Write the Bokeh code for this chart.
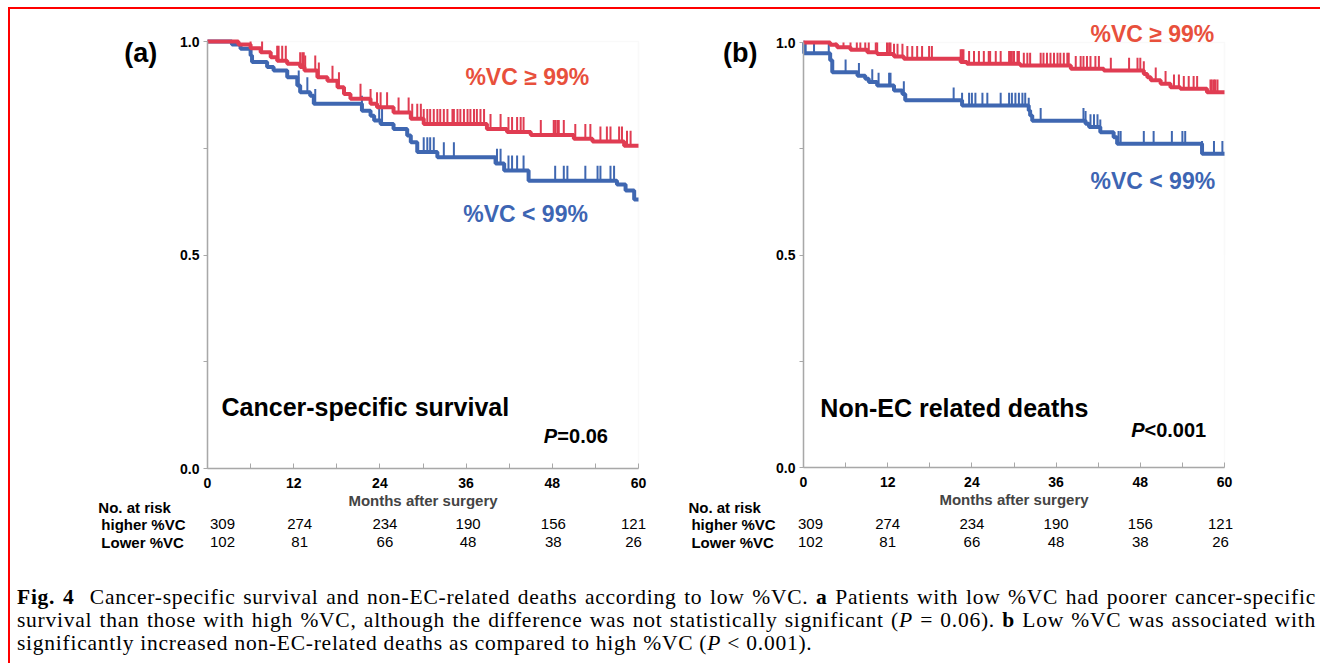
import numpy as np
from bokeh.plotting import figure
from bokeh.models import (Range1d, FixedTicker, PrintfTickFormatter, Label, Div, Spacer,
                          LinearAxis, BoxAnnotation)
from bokeh.layouts import row, column
from bokeh.embed import file_html
from bokeh.resources import INLINE

# ---------------- data ----------------
months = [0, 12, 24, 36, 48, 60]
minor_months = [6, 18, 30, 42, 54]
risk_hi = [309, 274, 234, 190, 156, 121]
risk_lo = [102, 81, 66, 48, 38, 26]

# (a) cancer-specific survival, %VC >= 99%
a_hi_t = [0, 4.3, 6.0, 7.4, 8.8, 9.7, 11.1, 12.9, 13.5, 15.3, 16.7, 18.1, 19.0, 19.9, 22.7, 23.6,
          25.9, 28.3, 30.1, 38.9, 41.7, 45.0, 51.0, 53.6, 58.0]
a_hi_s = [1.0, 0.993, 0.984, 0.975, 0.963, 0.955, 0.948, 0.940, 0.932, 0.916, 0.908, 0.893, 0.877,
          0.866, 0.854, 0.846, 0.834, 0.819, 0.807, 0.795, 0.788, 0.781, 0.772, 0.766, 0.756]
a_hi_cens = [6.0, 7.6, 9.7, 9.9, 10.4, 10.9, 12.9, 13.2, 13.4, 13.6, 15.0, 15.5, 17.4, 18.3, 21.3,
             22.7, 23.6, 24.1, 25.0, 26.6, 28.0, 28.5, 29.2, 29.7, 30.1, 30.6, 31.0, 31.5, 32.0,
             32.4, 32.9, 33.4, 34.1, 34.3, 34.8, 35.2, 35.7, 36.2, 36.6, 37.1, 37.5, 38.0, 38.5,
             39.4, 40.8, 41.9, 42.4, 43.1, 43.6, 44.0, 46.4, 48.2, 48.4, 48.7, 48.9, 49.6, 51.2,
             52.6, 53.3, 54.7, 55.6, 56.1, 57.3, 57.7, 58.4, 58.9]
# (a) %VC < 99%
a_lo_t = [0, 3.4, 4.6, 6.0, 6.2, 8.3, 9.2, 11.1, 12.5, 12.9, 14.3, 14.8, 21.5, 22.7, 23.2, 24.1,
          25.9, 27.8, 28.3, 29.2, 32.0, 40.1, 41.3, 44.7, 57.0, 58.2, 59.4]
a_lo_s = [1.0, 0.993, 0.983, 0.967, 0.952, 0.940, 0.932, 0.916, 0.897, 0.881, 0.873, 0.854, 0.838,
          0.826, 0.815, 0.807, 0.795, 0.780, 0.764, 0.741, 0.729, 0.714, 0.698, 0.674, 0.665,
          0.651, 0.630]
a_lo_cens = [12.7, 13.9, 15.0, 21.5, 23.9, 24.3, 30.1, 30.6, 31.0, 31.5, 32.9, 34.3, 40.3, 40.8,
             41.9, 42.4, 43.1, 44.0, 48.4, 49.6, 50.1, 52.6, 54.3, 54.7, 56.1, 56.6]

# (b) non-EC related deaths, %VC >= 99%
b_hi_t = [0, 3.8, 4.8, 6.7, 9.1, 10.5, 12.9, 14.3, 22.4, 23.3, 30.9, 38.1, 42.8, 48.5, 49.0, 49.5,
          50.9, 52.3, 53.7, 57.5]
b_hi_s = [1.0, 0.995, 0.989, 0.983, 0.977, 0.973, 0.967, 0.962, 0.954, 0.950, 0.946, 0.938, 0.934,
          0.926, 0.918, 0.911, 0.903, 0.895, 0.891, 0.883]
b_hi_cens = [4.6, 5.7, 6.7, 7.6, 8.1, 8.8, 9.3, 10.3, 10.5, 11.9, 12.2, 12.4, 12.9, 13.4, 14.1,
             14.8, 15.5, 16.2, 16.9, 17.9, 18.3, 22.4, 22.6, 22.8, 23.6, 24.3, 25.0, 25.7, 26.4,
             26.6, 27.4, 28.1, 29.3, 29.5, 29.7, 30.0, 30.5, 30.7, 31.4, 31.9, 32.3, 33.8, 34.2,
             34.7, 35.2, 35.7, 36.2, 36.6, 37.1, 37.6, 37.8, 38.8, 39.5, 39.9, 40.4, 40.9, 41.6,
             42.1, 43.8, 46.4, 47.6, 48.0, 48.5, 50.2, 51.6, 52.8, 53.5, 54.2, 54.9, 55.6, 56.1,
             58.0, 58.2, 58.5, 58.7, 59.0]
# (b) %VC < 99%
b_lo_t = [0, 0.1, 3.8, 4.1, 7.7, 8.8, 9.3, 10.5, 12.9, 14.1, 14.5, 22.6, 32.1, 32.3, 32.6, 40.2,
          40.7, 42.3, 44.2, 44.7, 56.8]
b_lo_s = [1.0, 0.975, 0.958, 0.930, 0.922, 0.915, 0.907, 0.899, 0.887, 0.879, 0.864, 0.852, 0.840,
          0.828, 0.816, 0.809, 0.801, 0.789, 0.777, 0.762, 0.738]
b_lo_cens = [0.3, 1.5, 3.6, 6.0, 7.9, 9.8, 10.7, 12.2, 12.4, 14.3, 21.4, 22.6, 23.6, 24.0, 24.5,
             25.5, 26.2, 28.1, 29.3, 29.7, 30.2, 30.7, 31.2, 31.6, 32.1, 33.8, 39.9, 40.2, 40.9,
             41.4, 41.9, 42.3, 44.9, 45.2, 48.5, 49.9, 52.5, 54.0, 54.4, 56.8, 58.5, 59.7]

RED = "#e03c52"
BLUE = "#3f67b1"
RED_TXT = "#e8503c"
BLUE_TXT = "#3d65b3"
SANS = "Liberation Sans"
AXIS_GRAY = "#a8a8a8"


def lab(p, x, y, text, size, color="black", style="bold", align="left", dx=0):
    p.add_layout(Label(x=x, y=y, x_offset=dx, text=text, text_font=SANS, text_font_size=size,
                       text_font_style=style, text_color=color, text_align=align,
                       text_baseline="middle"))


def km(p, t, s, cens, color, tick_h):
    t = list(t) + [60]
    s = list(s) + [s[-1]]
    p.step(x=t, y=s, mode="after", line_color=color, line_width=4)
    idx = np.searchsorted(np.array(t), np.array(cens), side="right") - 1
    sv = np.array(s)[idx]
    p.segment(x0=cens, y0=sv, x1=cens, y1=np.minimum(sv + tick_h, 1.0),
              line_color=color, line_width=2)


def panel(width, height, x0_px, x60_px, y1_px, y0_px):
    """Frame covers the whole figure; ranges chosen so that the plotting
    area (0..60 months, 0..1) lands at the given pixel box."""
    kx = (x60_px - x0_px) / 60.0
    ky = (y0_px - y1_px) / 1.0
    xr = Range1d(-x0_px / kx, 60 + (width - x60_px) / kx)
    yr = Range1d(-(height - y0_px) / ky, 1 + y1_px / ky)
    p = figure(width=width, height=height, x_range=xr, y_range=yr,
               output_backend="svg", toolbar_location=None,
               x_axis_location=None, y_axis_location=None,
               min_border=0, min_border_left=0, min_border_right=0,
               min_border_top=0, min_border_bottom=0)
    p.grid.visible = False
    p.outline_line_color = None
    p.background_fill_color = "white"
    p.border_fill_color = "white"
    p.add_layout(BoxAnnotation(left=0, right=60, bottom=0, top=1, fill_alpha=0,
                               line_color="#ececec", line_width=1.5, level="underlay"))

    xa = LinearAxis(fixed_location=0, bounds=(0, 60),
                    ticker=FixedTicker(ticks=months, minor_ticks=minor_months))
    ya = LinearAxis(fixed_location=0, bounds=(0, 1),
                    ticker=FixedTicker(ticks=[0, 0.5, 1.0], minor_ticks=[0.25, 0.75]),
                    formatter=PrintfTickFormatter(format="%.1f"))
    for ax in (xa, ya):
        ax.axis_line_color = AXIS_GRAY
        ax.axis_line_width = 1.5
        ax.major_tick_line_color = AXIS_GRAY
        ax.minor_tick_line_color = AXIS_GRAY
        ax.major_label_text_font = SANS
        ax.major_label_text_font_style = "bold"
        ax.major_label_text_font_size = "14px"
        ax.major_label_text_color = "black"
    xa.major_tick_in = 5
    xa.major_tick_out = 0
    xa.minor_tick_in = 5
    xa.minor_tick_out = 0
    xa.major_label_standoff = 9
    xa.axis_label = "Months after surgery"
    xa.axis_label_text_font = SANS
    xa.axis_label_text_font_style = "bold"
    xa.axis_label_text_font_size = "15px"
    xa.axis_label_standoff = 1
    ya.major_tick_in = 0
    ya.major_tick_out = 4
    ya.minor_tick_in = 0
    ya.minor_tick_out = 4
    ya.major_label_standoff = 4
    p.add_layout(xa, "below")
    p.add_layout(ya, "left")
    return p


def risk_table(p, x_lab, y_rows, col_dx):
    lab(p, x_lab, y_rows[0], "No. at risk", "15px")
    lab(p, x_lab, y_rows[1], "higher %VC", "15px", dx=3)
    lab(p, x_lab, y_rows[2], "Lower %VC", "15px", dx=3)
    for m, h, l, dx in zip(months, risk_hi, risk_lo, col_dx):
        lab(p, m, y_rows[1], str(h), "15px", style="normal", align="center", dx=dx)
        lab(p, m, y_rows[2], str(l), "15px", style="normal", align="center", dx=dx)


# page layout: content starts at x=10, y=9 (inside the red frame lines)
# ---------------- panel (a) ----------------
pa = panel(650, 551, 207 - 10, 638 - 10, 41 - 9, 468 - 9)
km(pa, a_lo_t, a_lo_s, a_lo_cens, BLUE, 0.035)
km(pa, a_hi_t, a_hi_s, a_hi_cens, RED, 0.035)
lab(pa, -9.3, 0.974, "(a)", "27px", align="center")
lab(pa, 35.9, 0.916, "%VC \u2265 99%", "23px", color=RED_TXT)
lab(pa, 35.6, 0.595, "%VC < 99%", "23px", color=BLUE_TXT)
lab(pa, 1.95, 0.143, "Cancer-specific survival", "25px")
lab(pa, 46.8, 0.075, "P", "20px", style="bold italic")
lab(pa, 48.7, 0.075, "=0.06", "20px")
risk_table(pa, -15.2, [-0.091, -0.131, -0.173], [15, 6, 5, 2, 1, -5])

# ---------------- panel (b) ----------------
pb = panel(660, 551, 803 - 660, 1224 - 660, 42 - 9, 467 - 9)
km(pb, b_lo_t, b_lo_s, b_lo_cens, BLUE, 0.03)
km(pb, b_hi_t, b_hi_s, b_hi_cens, RED, 0.03)
lab(pb, -9.0, 0.976, "(b)", "27px", align="center")
lab(pb, 40.9, 1.021, "%VC \u2265 99%", "23px", color=RED_TXT)
lab(pb, 40.9, 0.675, "%VC < 99%", "23px", color=BLUE_TXT)
lab(pb, 2.4, 0.141, "Non-EC related deaths", "25px")
lab(pb, 46.7, 0.089, "P", "20px", style="bold italic")
lab(pb, 48.6, 0.089, "<0.001", "20px")
risk_table(pb, -16.4, [-0.094, -0.134, -0.176], [7, 0, 0, 0, 0, -4])

# ---------------- caption ----------------
LINE = "width:1299px;text-align:justify;text-align-last:justify;"
cap_html = (
    "<div style=\"font-family:'Liberation Serif';font-size:21.5px;letter-spacing:0.75px;"
    "line-height:23px;color:#000;padding:26px 0 0 7px;width:1303px;\">"
    f"<div style=\"{LINE}\"><b>Fig. 4</b>&nbsp; Cancer-specific survival and non-EC-related deaths "
    "according to low %VC. <b>a</b> Patients with low %VC had poorer cancer-specific</div>"
    f"<div style=\"{LINE}\">survival than those with high %VC, although the difference was not "
    "statistically significant (<i>P</i> = 0.06). <b>b</b> Low %VC was associated with</div>"
    "<div style=\"width:1299px;text-align:left;\">significantly increased non-EC-related deaths "
    "as compared to high %VC (<i>P</i> &lt; 0.001).</div></div>"
)
cap = Div(text=cap_html, width=1310, height=103, margin=0)

red_h = Div(text="", width=1312, height=2, margin=0, styles={"background-color": "#ff0000"})
red_v = Div(text="", width=2, height=654, margin=0, styles={"background-color": "#ff0000"})

inner = column(row(pa, pb, spacing=0), cap, spacing=0)
body = column(red_h, row(red_v, inner, spacing=0), spacing=0)
root = column(Spacer(width=1320, height=7, margin=0),
              row(Spacer(width=8, height=656, margin=0), body, spacing=0),
              spacing=0)

open("out.html", "w").write(file_html(root, INLINE))
